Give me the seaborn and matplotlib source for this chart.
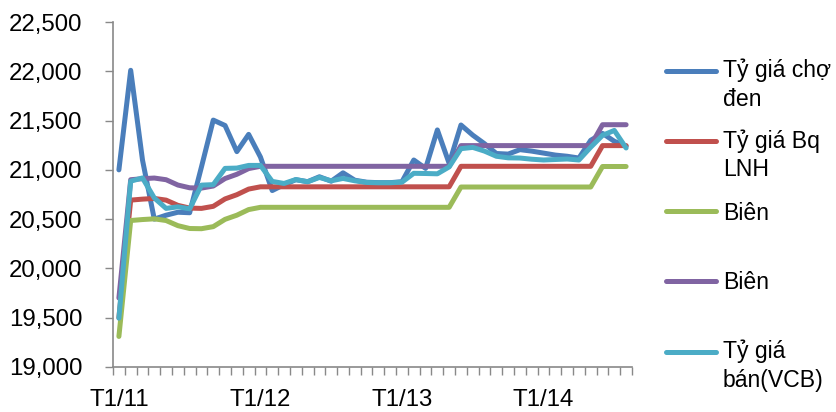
import numpy as np
import pandas as pd
import matplotlib
matplotlib.use("Agg")
import matplotlib.pyplot as plt
import seaborn as sns
from matplotlib.lines import Line2D
from matplotlib.ticker import FuncFormatter

# ---------------- data (monthly, T1/2011 .. T8/2014) ----------------
months = [f"T{m}/{y}" for y in (11, 12, 13, 14) for m in range(1, 13)][:44]
tick_labels = ["T1/11", "T1/12", "T1/13", "T1/14"]

cho_den = [21000, 22010, 21100, 20500, 20540, 20570, 20565, 21030, 21505, 21450,
           21185, 21360, 21130, 20790, 20850, 20900, 20880, 20930, 20885, 20970,
           20895, 20875, 20870, 20870, 20880, 21100, 21015, 21405, 21065, 21455,
           21352, 21265, 21166, 21160, 21205, 21190, 21170, 21150, 21138, 21120,
           21300, 21370, 21290, 21240]

bq_lnh = [19500, 20693, 20703, 20710, 20693, 20640, 20612, 20609, 20630, 20705,
          20748, 20805, 20828, 20828, 20828, 20828, 20828, 20828, 20828, 20828,
          20828, 20828, 20828, 20828, 20828, 20828, 20828, 20828, 20828, 21036,
          21036, 21036, 21036, 21036, 21036, 21036, 21036, 21036, 21036, 21036,
          21036, 21246, 21246, 21246]

bien_duoi = [19310, 20486, 20496, 20503, 20486, 20434, 20405, 20403, 20424, 20498,
             20540, 20597, 20620, 20620, 20620, 20620, 20620, 20620, 20620, 20620,
             20620, 20620, 20620, 20620, 20620, 20620, 20620, 20620, 20620, 20826,
             20826, 20826, 20826, 20826, 20826, 20826, 20826, 20826, 20826, 20826,
             20826, 21034, 21034, 21034]

bien_tren = [19700, 20900, 20910, 20917, 20900, 20846, 20818, 20815, 20836, 20912,
             20955, 21013, 21036, 21036, 21036, 21036, 21036, 21036, 21036, 21036,
             21036, 21036, 21036, 21036, 21036, 21036, 21036, 21036, 21036, 21246,
             21246, 21246, 21246, 21246, 21246, 21246, 21246, 21246, 21246, 21246,
             21246, 21458, 21458, 21458]

ban_vcb = [19495, 20885, 20918, 20715, 20609, 20625, 20605, 20845, 20850, 21015,
           21018, 21045, 21045, 20883, 20862, 20902, 20879, 20923, 20889, 20913,
           20889, 20872, 20869, 20869, 20875, 20965, 20963, 20960, 21030, 21215,
           21228, 21190, 21138, 21122, 21120, 21108, 21100, 21105, 21110, 21100,
           21230, 21350, 21400, 21222]

series_labels = ["Tỷ giá chợ\nđen", "Tỷ giá Bq\nLNH", "Biên", "Biên", "Tỷ giá\nbán(VCB)"]
series_values = [cho_den, bq_lnh, bien_duoi, bien_tren, ban_vcb]
colors = ["#4A7EBB", "#C0504D", "#9BBB59", "#8064A2", "#4BACC6"]

# ---------------- style ----------------
sns.set_style("white")
plt.rcParams["font.family"] = ["Liberation Sans", "DejaVu Sans"]

W, H = 837, 412
FS = 17.28  # 24 px
LFS = 16.6  # legend text
LW = 3.6
GREY = "#898989"

fig = plt.figure(figsize=(W / 100, H / 100), dpi=100)
fig.patch.set_facecolor("white")
ax = fig.add_axes([113 / W, 45 / H, 519 / W, 345 / H])
ax.set_facecolor("white")

x = np.arange(len(months))
for vals, col in zip(series_values, colors):
    sns.lineplot(x=x, y=vals, color=col, linewidth=LW, ax=ax, legend=False,
                 solid_capstyle="round", solid_joinstyle="round")

ax.set_xlim(-0.5, len(months) - 0.5)
ax.set_ylim(19000, 22500)
ax.set_yticks(np.arange(19000, 22501, 500))
ax.yaxis.set_major_formatter(FuncFormatter(lambda v, p: f"{v:,.0f}"))

ax.set_xticks([months.index(t) for t in tick_labels])
ax.set_xticklabels(tick_labels)
ax.set_xticks(np.arange(-0.5, len(months), 1), minor=True)

ax.tick_params(axis="y", which="major", direction="out", length=5.8, width=1,
               color=GREY, pad=16.0, labelsize=FS, labelcolor="black", left=True)
ax.tick_params(axis="x", which="major", length=0, pad=15.5, labelsize=FS,
               labelcolor="black", bottom=True)
ax.tick_params(axis="x", which="minor", direction="out", length=5.8, width=1,
               color=GREY, bottom=True)

for s in ["top", "right"]:
    ax.spines[s].set_visible(False)
for s in ["left", "bottom"]:
    ax.spines[s].set_color(GREY)
    ax.spines[s].set_linewidth(1.2)
ax.grid(False)
ax.set_xlabel("")
ax.set_ylabel("")

# ---------------- legend (right side) ----------------
LINE_STEP = 27.0  # px between text lines
leg_y = [70.7, 141, 211, 280.7, 351.7]
for lab, col, yy in zip(series_labels, colors, leg_y):
    fy = 1 - yy / H
    fig.add_artist(Line2D([666.5 / W, 716.5 / W], [fy, fy], transform=fig.transFigure,
                          color=col, linewidth=LW, solid_capstyle="round"))
    n_extra = lab.count("\n")
    base = yy + 8.5 + n_extra * LINE_STEP
    fig.text(723 / W, 1 - base / H, lab, ha="left", va="baseline",
             fontsize=LFS, linespacing=1.33, color="black")

fig.savefig("out.png", dpi=100, facecolor="white")
